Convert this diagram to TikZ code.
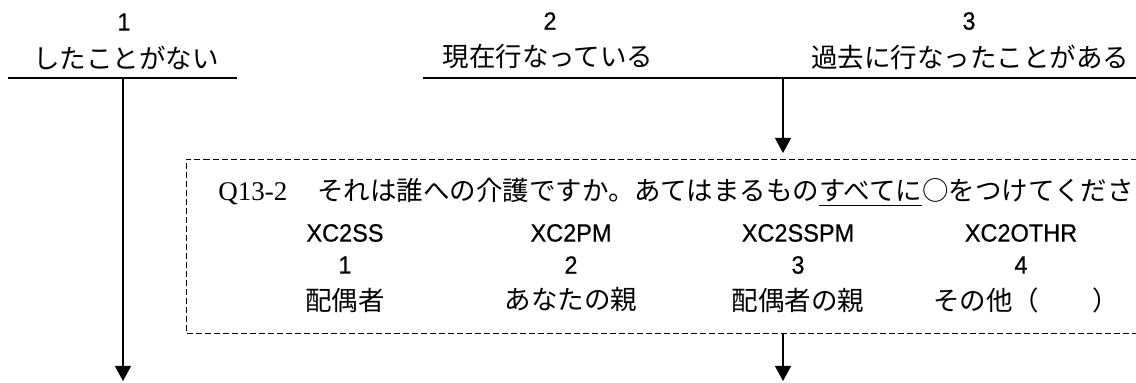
\documentclass[tikz,border=0pt]{standalone}
\usepackage{fontspec}
\setmainfont{Liberation Serif}
\setsansfont{Liberation Sans}[FakeStretch=0.94,FakeBold=0.6]
\newfontfamily\jpfont{Noto Sans CJK JP}
\usepackage{tikz}
\tikzset{every picture/.style={x=0.5pt,y=-0.5pt}}
\usetikzlibrary{arrows.meta}
\tikzset{
  jptext/.style={inner sep=0pt, font=\jpfont\fontsize{13.25}{15}\selectfont},
  numtext/.style={inner sep=0pt, font=\sffamily\fontsize{12.5}{14}\selectfont},
  qnotext/.style={inner sep=0pt, font=\rmfamily\fontsize{13.5}{15}\selectfont},
  optline/.style={line width=0.75pt},
  flowarrow/.style={line width=0.6pt, -{Triangle[width=8pt,length=7.5pt]}},
  dashbox/.style={draw, dash pattern=on 3pt off 1.5pt, line width=0.5pt, inner sep=0pt}
}

\begin{document}
\begin{tikzpicture}
    \useasboundingbox (0,0) rectangle (1136,383);
    % answers of the question
    \node[numtext] (n1) at (124,22) {1};
    \node[jptext] (c1) at (126,58) {したことがない};
    \node[numtext] (n2) at (550,21) {2};
    \node[jptext] (c2) at (548,57) {現在行なっている};
    \node[numtext] (n3) at (969,21) {3};
    \node[jptext] (c3) at (970,57) {過去に行なったことがある};
    \coordinate (l1a) at (8,78);
    \coordinate (l1b) at (237,78);
    \coordinate (l2a) at (423,78);
    \coordinate (l2b) at (1136,78);
    \draw[optline] (l1a) -- (l1b);
    \draw[optline] (l2a) -- (l2b);
    % sub question
    \node[dashbox, anchor=north west, minimum width=482pt, minimum height=87pt] (box) at (186,159) {};
    \node[qnotext, anchor=base west] (qno) at (218,201) {Q13-2};
    \node[jptext, anchor=base west] (qtext) at (317,201) {それは誰への介護ですか。あてはまるもの\underline{すべてに}○をつけてくださ};
    \node[numtext] (code1) at (345,233) {XC2SS};
    \node[numtext] (code2) at (571,233) {XC2PM};
    \node[numtext] (code3) at (798,233) {XC2SSPM};
    \node[numtext] (code4) at (1021,233) {XC2OTHR};
    \node[numtext] (num1) at (345,265) {1};
    \node[numtext] (num2) at (571,265) {2};
    \node[numtext] (num3) at (798,265) {3};
    \node[numtext] (num4) at (1021,265) {4};
    \node[jptext] (lab1) at (345,300) {配偶者};
    \node[jptext] (lab2) at (571,300) {あなたの親};
    \node[jptext] (lab3) at (798,300) {配偶者の親};
    \node[jptext, anchor=west] (lab4) at (933,300) {その他（\hspace{2em}）};
    % flow
    \coordinate (s1) at (123,78);
    \coordinate (s2) at (783,78);
    \coordinate (end1) at (123,381);
    \coordinate (end2) at (783,381);
    \draw[flowarrow] (s1) -- (end1);
    \draw[flowarrow] (s2) -- ([yshift=3pt]box.north -| s2);
    \draw[flowarrow] (box.south -| s2) -- (end2);
\end{tikzpicture}
\end{document}
